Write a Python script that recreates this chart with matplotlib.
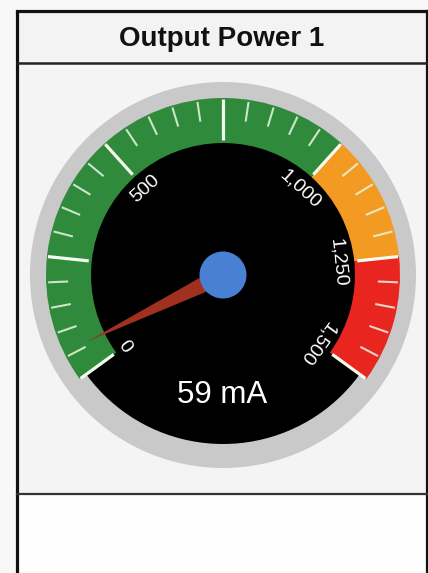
import numpy as np
import matplotlib
matplotlib.use("Agg")
import matplotlib.pyplot as plt
from matplotlib.patches import Wedge, Circle, Rectangle, Polygon

# ---- data ----
title = "Output Power 1"
value = 59
unit = "mA"
gauge_min, gauge_max = 0, 1500
band_edges = [0, 1000, 1250, 1500]
band_colors = ["#2f8a3c", "#f39a22", "#e8251f"]
major_ticks = [0, 250, 500, 750, 1000, 1250, 1500]
minor_step = 50
label_values = [0, 500, 1000, 1250, 1500]
label_texts = ["0", "500", "1,000", "1,250", "1,500"]

# ---- layout (pixel coordinates, y up) ----
W, H = 428, 573
fig = plt.figure(figsize=(W / 100, H / 100), dpi=100)
fig.patch.set_facecolor("#f8f8f8")
ax = fig.add_axes([0, 0, 1, 1])
ax.set_xlim(0, W)
ax.set_ylim(0, H)
ax.set_aspect("auto")
ax.axis("off")

def Y(y_img):
    return H - y_img

FONT = ["Liberation Sans", "DejaVu Sans"]

# panels
ax.add_patch(Rectangle((17, Y(63)), 420, 52, facecolor="#f3f3f3", edgecolor="none"))
ax.add_patch(Rectangle((17, Y(494)), 420, 431, facecolor="#f4f4f4", edgecolor="none"))
ax.add_patch(Rectangle((17, -10), 420, Y(494) + 10, facecolor="#fefefe", edgecolor="none"))
lw_out = 2.3
ax.plot([17, 17], [-5, Y(11)], color="#111111", lw=lw_out, solid_capstyle="butt")
ax.plot([17, 427], [Y(11), Y(11)], color="#111111", lw=lw_out)
ax.plot([427, 427], [-5, Y(11)], color="#111111", lw=lw_out)
ax.plot([17, 427], [Y(63), Y(63)], color="#222222", lw=1.8)
ax.plot([17, 427], [Y(494), Y(494)], color="#333333", lw=1.6)

ax.text(222, Y(46), title, ha="center", va="baseline", fontsize=20,
        fontweight="bold", family=FONT, color="#111111")

# gauge geometry
cx, cy = 223, Y(275)
r_gray = 193
r_black = 169
r_band_out = 177
band_w = 45
a0, sweep = 216.0, 252.0

def ang(v):
    return a0 - (v - gauge_min) / (gauge_max - gauge_min) * sweep

ax.add_patch(Circle((cx, cy), r_gray, facecolor="#c9c9c9", edgecolor="none"))
ax.add_patch(Circle((cx, cy), r_black, facecolor="#000000", edgecolor="none"))

for i, col in enumerate(band_colors):
    t1, t2 = ang(band_edges[i + 1]), ang(band_edges[i])
    ax.add_patch(Wedge((cx, cy), r_band_out, t1, t2, width=band_w,
                       facecolor=col, edgecolor="none"))

def radial_line(v, r1, r2, **kw):
    t = np.deg2rad(ang(v))
    ax.plot([cx + r1 * np.cos(t), cx + r2 * np.cos(t)],
            [cy + r1 * np.sin(t), cy + r2 * np.sin(t)], **kw)

for v in np.arange(gauge_min, gauge_max + 1, minor_step):
    if v in major_ticks:
        continue
    radial_line(v, 155, 175, color="#e8f5e0", lw=1.5, alpha=0.85,
                solid_capstyle="butt")
for v in major_ticks:
    radial_line(v, r_band_out - band_w + 3, 176, color="#f4fbef", lw=2.3,
                solid_capstyle="butt")

for v, s in zip(label_values, label_texts):
    t = ang(v)
    tr = np.deg2rad(t)
    ax.text(cx + 116 * np.cos(tr), cy + 116 * np.sin(tr), s,
            rotation=t - 90, rotation_mode="anchor", ha="center", va="center",
            fontsize=14, color="white", family=FONT)

# needle
tn = np.deg2rad(ang(value))
tip = (cx + 151 * np.cos(tn), cy + 151 * np.sin(tn))
pn = tn + np.pi / 2
hw = 9
base1 = (cx + hw * np.cos(pn), cy + hw * np.sin(pn))
base2 = (cx - hw * np.cos(pn), cy - hw * np.sin(pn))
ax.add_patch(Polygon([base1, tip, base2], closed=True, facecolor="#a03020",
                     edgecolor="none"))
ax.add_patch(Circle((cx, cy), 23.5, facecolor="#4a80d4", edgecolor="none"))

ax.text(222, Y(403), f"{value} {unit}", ha="center", va="baseline",
        fontsize=22.5, color="white", family=FONT)

fig.savefig("out.png", dpi=100, facecolor=fig.get_facecolor())
